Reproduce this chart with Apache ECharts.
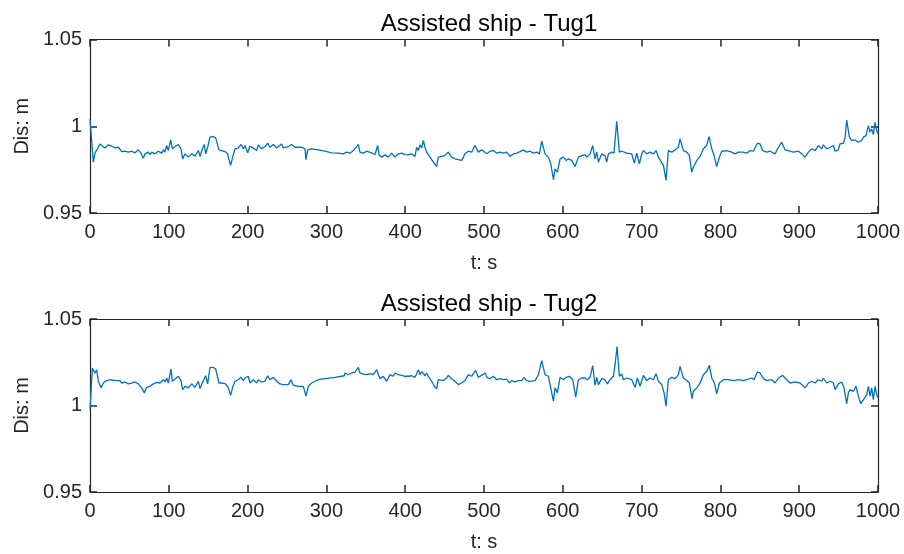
<!DOCTYPE html>
<html>
<head>
<meta charset="utf-8">
<script src="https://cdn.jsdelivr.net/npm/echarts@6/dist/echarts.min.js"></script>
<style>html,body{margin:0;padding:0;background:#fff}#c{width:904px;height:554px}</style>
</head>
<body>
<div id="c"></div>
<script>
const titles = ['Assisted ship - Tug1', 'Assisted ship - Tug2'];
const xTicks = [0,100,200,300,400,500,600,700,800,900,1000];
const yTicks = [0.95, 1, 1.05];

const t1 = [0,4.2,6.3,8.5,12.7,14.8,19.0,23.3,27.5,31.7,36.0,40.2,44.4,48.6,52.9,57.1,61.3,64.7,67.7,69.8,74.0,76.1,78.3,82.5,86.7,90.9,93.1,95.2,97.3,99.4,102.4,104.5,107.9,112.1,115.5,117.6,120.6,124.8,129.0,133.2,137.5,139.6,142.6,145.1,146.8,149.3,152.3,156.5,159.5,162.0,163.7,167.1,171.3,174.7,176.4,178.5,181.0,184.0,188.2,191.6,194.6,196.7,200.1,203.0,207.3,211.5,213.6,217.8,222.1,225.5,228.4,232.7,236.9,243.2,245.3,251.7,255.9,260.1,268.6,272.8,274.1,276.2,281.3,289.8,298.2,306.7,315.1,321.5,325.7,329.9,334.2,338.4,340.5,342.6,346.9,351.1,357.4,361.7,365.0,367.2,370.1,374.4,378.6,382.8,387.0,391.3,395.5,399.7,404.0,408.2,412.4,414.5,416.7,418.8,420.9,423.0,425.1,427.2,429.3,431.5,435.7,439.9,442.0,446.3,450.5,454.7,458.9,463.2,467.4,471.6,475.9,480.1,484.3,488.5,492.8,497.0,503.5,507.7,511.9,516.2,520.4,524.6,528.8,533.1,537.3,541.5,545.8,550.0,554.2,558.5,562.7,566.9,570.3,573.3,577.5,581.7,584.7,588.1,590.2,593.1,596.5,600.8,604.1,607.1,611.3,615.6,619.8,624.0,628.2,630.4,634.6,638.0,640.9,643.1,645.2,649.4,653.6,655.7,657.9,662.1,665.0,668.4,671.8,674.8,681.1,687.5,690.8,693.8,697.2,700.2,702.3,706.5,710.7,715.0,718.3,721.3,727.7,731.0,734.0,738.2,742.5,746.7,748.8,753.0,757.3,760.6,763.6,765.7,770.0,774.2,778.4,782.6,785.6,789.0,792.0,795.3,798.7,801.7,808.0,814.4,818.6,822.8,829.2,833.4,837.6,841.9,846.9,850.3,853.7,858.8,863.0,869.4,873.6,877.8,882.0,888.4,892.6,899.0,903.2,907.4,911.7,915.9,920.1,924.3,928.6,930.7,934.9,939.2,943.4,945.5,949.7,951.8,956.1,958.2,960.3,963.7,966.6,970.9,975.1,979.3,981.5,984.8,987.8,989.9,992.0,994.1,996.3,998.4,1000];
const v1 = [1.0042,0.9793,0.9845,0.9851,0.9898,0.9902,0.9875,0.9893,0.9885,0.9875,0.9879,0.9854,0.9856,0.9851,0.9856,0.9847,0.9864,0.9845,0.9816,0.9841,0.9851,0.9837,0.9851,0.9841,0.9856,0.9845,0.9864,0.9851,0.9889,0.9860,0.9921,0.9870,0.9883,0.9895,0.9870,0.9812,0.9841,0.9822,0.9841,0.9828,0.9860,0.9826,0.9870,0.9895,0.9841,0.9879,0.9937,0.9941,0.9933,0.9927,0.9864,0.9860,0.9854,0.9841,0.9807,0.9774,0.9822,0.9870,0.9875,0.9895,0.9870,0.9889,0.9847,0.9885,0.9874,0.9860,0.9893,0.9870,0.9883,0.9902,0.9879,0.9895,0.9875,0.9898,0.9875,0.9883,0.9895,0.9879,0.9879,0.9870,0.9807,0.9864,0.9870,0.9864,0.9856,0.9847,0.9845,0.9841,0.9851,0.9845,0.9860,0.9883,0.9895,0.9851,0.9845,0.9856,0.9847,0.9837,0.9889,0.9831,0.9822,0.9835,0.9822,0.9845,0.9822,0.9841,0.9845,0.9837,0.9835,0.9841,0.9826,0.9879,0.9860,0.9893,0.9875,0.9918,0.9879,0.9851,0.9860,0.9822,0.9793,0.9768,0.9822,0.9826,0.9831,0.9851,0.9822,0.9812,0.9807,0.9803,0.9841,0.9856,0.9851,0.9889,0.9851,0.9864,0.9841,0.9856,0.9860,0.9845,0.9851,0.9845,0.9851,0.9826,0.9841,0.9845,0.9854,0.9864,0.9851,0.9856,0.9845,0.9851,0.9841,0.9914,0.9841,0.9822,0.9784,0.9692,0.9755,0.9736,0.9812,0.9822,0.9803,0.9812,0.9803,0.9768,0.9822,0.9831,0.9837,0.9822,0.9841,0.9889,0.9812,0.9851,0.9793,0.9841,0.9831,0.9793,0.9841,0.9851,0.9845,1.0029,0.9851,0.9856,0.9845,0.9841,0.9787,0.9845,0.9784,0.9841,0.9860,0.9841,0.9851,0.9841,0.9860,0.9822,0.9774,0.9688,0.9860,0.9851,0.9864,0.9879,0.9927,0.9860,0.9851,0.9831,0.9736,0.9764,0.9803,0.9826,0.9870,0.9889,0.9941,0.9870,0.9831,0.9768,0.9822,0.9856,0.9860,0.9851,0.9841,0.9851,0.9851,0.9845,0.9860,0.9856,0.9902,0.9898,0.9860,0.9851,0.9856,0.9841,0.9879,0.9908,0.9864,0.9856,0.9851,0.9856,0.9841,0.9822,0.9851,0.9870,0.9860,0.9889,0.9870,0.9893,0.9870,0.9879,0.9889,0.9856,0.9864,0.9898,0.9902,0.9933,1.0036,0.9937,0.9918,0.9921,0.9908,0.9918,0.9937,0.9946,1.0004,0.9966,0.9985,0.9952,1.0023,0.9975,0.9956];

const t2 = [0,3.0,6.3,8.5,10.6,12.7,14.0,16.9,21.2,25.4,29.6,33.8,38.1,40.2,44.4,48.6,52.9,57.1,61.3,65.6,68.9,71.9,76.1,80.4,84.6,88.8,93.1,95.2,97.3,99.4,102.8,104.5,107.9,112.1,115.5,117.6,120.6,124.8,129.0,133.2,137.5,139.6,143.8,146.8,149.3,152.3,156.5,159.5,162.0,163.7,167.9,172.2,175.5,178.5,181.0,184.0,188.2,191.6,194.6,196.7,200.9,203.0,207.3,211.5,213.6,217.8,222.1,225.5,228.4,232.7,236.9,241.1,245.3,247.5,251.7,255.1,258.0,264.4,270.7,272.8,274.1,277.1,281.3,285.5,289.8,298.2,310.9,322.7,323.6,327.8,332.1,336.3,340.5,342.6,346.9,351.1,355.3,359.6,363.8,368.0,372.2,376.5,380.7,384.9,387.0,391.3,395.5,399.7,404.0,408.2,412.4,416.7,418.8,420.9,423.0,425.1,427.2,429.3,433.6,437.0,439.9,442.0,448.4,452.6,454.7,458.9,463.2,467.4,471.6,475.9,480.1,484.3,489.4,492.8,497.0,501.3,504.3,507.7,511.9,516.2,520.4,524.6,528.8,532.2,535.2,539.4,543.6,547.9,550.8,554.2,558.5,564.8,569.0,573.3,575.4,577.5,581.7,584.7,588.1,590.2,593.1,596.5,600.8,604.1,608.4,612.6,616.4,619.8,624.0,628.2,631.2,634.6,638.0,640.9,643.1,645.2,649.4,653.6,656.6,660.0,664.2,666.3,668.9,671.8,674.8,676.9,681.1,687.5,691.7,694.7,698.0,702.3,706.5,710.7,715.0,718.3,721.3,725.5,728.5,731.0,734.0,738.2,742.5,746.7,748.8,753.0,757.3,760.6,764.0,765.7,770.0,774.2,778.4,782.6,786.0,789.0,792.4,795.3,798.7,803.8,810.1,816.5,822.8,829.2,833.4,839.7,842.7,846.9,850.3,854.6,858.8,865.1,869.4,873.6,879.1,882.0,888.4,894.7,901.1,907.4,911.7,915.9,920.1,924.3,928.6,930.7,934.9,939.2,943.4,945.5,949.7,954.0,956.9,960.3,962.4,964.5,968.8,972.1,975.1,978.1,981.5,985.7,987.8,989.9,992.0,994.1,996.3,998.4,1000];
const v2 = [0.9977,1.0216,1.0188,1.0207,1.0140,1.0149,1.0102,1.0130,1.0144,1.0149,1.0146,1.0144,1.0144,1.0130,1.0136,1.0125,1.0130,1.0136,1.0125,1.0102,1.0073,1.0105,1.0111,1.0125,1.0134,1.0130,1.0149,1.0136,1.0159,1.0130,1.0211,1.0140,1.0153,1.0169,1.0144,1.0092,1.0111,1.0102,1.0125,1.0105,1.0140,1.0098,1.0144,1.0172,1.0125,1.0220,1.0220,1.0211,1.0207,1.0130,1.0130,1.0125,1.0102,1.0059,1.0105,1.0140,1.0149,1.0163,1.0144,1.0159,1.0169,1.0130,1.0149,1.0130,1.0149,1.0136,1.0140,1.0172,1.0149,1.0163,1.0140,1.0125,1.0121,1.0115,1.0121,1.0149,1.0117,1.0111,1.0111,1.0102,1.0054,1.0111,1.0130,1.0140,1.0149,1.0155,1.0163,1.0172,1.0188,1.0178,1.0188,1.0193,1.0220,1.0188,1.0182,1.0178,1.0184,1.0178,1.0207,1.0155,1.0169,1.0140,1.0178,1.0169,1.0188,1.0178,1.0174,1.0169,1.0169,1.0172,1.0163,1.0207,1.0178,1.0197,1.0188,1.0172,1.0188,1.0169,1.0140,1.0111,1.0096,1.0149,1.0144,1.0159,1.0174,1.0155,1.0140,1.0121,1.0130,1.0144,1.0178,1.0169,1.0203,1.0163,1.0174,1.0188,1.0159,1.0155,1.0169,1.0149,1.0155,1.0149,1.0153,1.0130,1.0144,1.0136,1.0144,1.0144,1.0163,1.0144,1.0140,1.0144,1.0178,1.0259,1.0216,1.0178,1.0169,1.0102,1.0025,1.0102,1.0073,1.0163,1.0149,1.0163,1.0169,1.0149,1.0048,1.0149,1.0159,1.0159,1.0149,1.0163,1.0230,1.0117,1.0163,1.0121,1.0155,1.0149,1.0125,1.0149,1.0169,1.0236,1.0341,1.0169,1.0182,1.0149,1.0159,1.0149,1.0105,1.0159,1.0111,1.0174,1.0144,1.0159,1.0149,1.0184,1.0140,1.0121,1.0073,0.9996,1.0149,1.0163,1.0155,1.0178,1.0226,1.0159,1.0144,1.0130,1.0040,1.0082,1.0102,1.0130,1.0178,1.0197,1.0232,1.0159,1.0130,1.0067,1.0130,1.0149,1.0149,1.0144,1.0149,1.0144,1.0149,1.0159,1.0149,1.0193,1.0188,1.0155,1.0144,1.0149,1.0130,1.0159,1.0174,1.0159,1.0130,1.0136,1.0130,1.0102,1.0130,1.0140,1.0130,1.0149,1.0140,1.0159,1.0130,1.0140,1.0130,1.0092,1.0125,1.0136,1.0102,1.0010,1.0073,1.0092,1.0082,1.0111,1.0054,1.0010,1.0034,1.0063,1.0111,1.0054,1.0102,1.0034,1.0111,1.0063,1.0044];

const zip = (t, v) => t.map((x, i) => [x, v[i]]);
const FONT = 'Liberation Sans';
const TXT = '#262626';
const LINE = '#0072BD';
const TICKLEN = 7;
const HIDDEN_SPLIT = {show: true, lineStyle: {color: 'rgba(0,0,0,0)', width: 0}};

const grids = [
  {left: 90, width: 788, top: 39.5, height: 173.5},
  {left: 90, width: 788, top: 319, height: 173}
];

const xAxes = [], yAxes = [];
grids.forEach((g, i) => {
  xAxes.push({
    type: 'value', gridIndex: i, min: xTicks[0], max: xTicks[xTicks.length - 1], interval: 100, position: 'bottom',
    name: 't: s', nameLocation: 'middle', nameGap: 40,
    nameTextStyle: {fontFamily: FONT, fontSize: 20, color: TXT},
    axisLine: {show: true, onZero: false, lineStyle: {color: TXT, width: 1.2}},
    axisTick: {show: true, inside: true, length: TICKLEN, lineStyle: {color: TXT, width: 1.5}},
    axisLabel: {show: true, fontFamily: FONT, fontSize: 20, color: TXT, margin: 9,
      formatter: v => String(v)},
    splitLine: HIDDEN_SPLIT
  });
  xAxes.push({
    type: 'value', gridIndex: i, min: xTicks[0], max: xTicks[xTicks.length - 1], interval: 100, position: 'top',
    axisLine: {show: true, onZero: false, lineStyle: {color: TXT, width: 1.2}},
    axisTick: {show: true, inside: true, length: TICKLEN, lineStyle: {color: TXT, width: 1.5}},
    axisLabel: {show: false}, splitLine: HIDDEN_SPLIT
  });
  yAxes.push({
    type: 'value', gridIndex: i, min: yTicks[0], max: yTicks[yTicks.length - 1], interval: 0.05, position: 'left',
    name: 'Dis: m', nameLocation: 'middle', nameGap: 53,
    nameTextStyle: {fontFamily: FONT, fontSize: 20, color: TXT},
    axisLine: {show: true, onZero: false, lineStyle: {color: TXT, width: 1.2}},
    axisTick: {show: true, inside: true, length: TICKLEN, lineStyle: {color: TXT, width: 1.5}},
    axisLabel: {show: true, fontFamily: FONT, fontSize: 20, color: TXT, margin: 8,
      formatter: v => String(Math.round(v * 100) / 100)},
    splitLine: HIDDEN_SPLIT
  });
  yAxes.push({
    type: 'value', gridIndex: i, min: yTicks[0], max: yTicks[yTicks.length - 1], interval: 0.05, position: 'right',
    axisLine: {show: true, onZero: false, lineStyle: {color: TXT, width: 1.2}},
    axisTick: {show: true, inside: true, length: TICKLEN, lineStyle: {color: TXT, width: 1.5}},
    axisLabel: {show: false}, splitLine: HIDDEN_SPLIT
  });
});

const chart = echarts.init(document.getElementById('c'), null, {renderer: 'canvas'});
chart.setOption({
  animation: false,
  backgroundColor: '#fff',
  title: [
    {text: titles[0], left: 484, top: 7, textAlign: 'center', textStyle: {fontFamily: FONT, fontSize: 24, fontWeight: 'normal', color: '#000'}},
    {text: titles[1], left: 484, top: 287, textAlign: 'center', textStyle: {fontFamily: FONT, fontSize: 24, fontWeight: 'normal', color: '#000'}}
  ],
  grid: grids,
  xAxis: xAxes,
  yAxis: yAxes,
  series: [
    {type: 'line', xAxisIndex: 0, yAxisIndex: 0, data: zip(t1, v1), showSymbol: false, symbol: 'none',
      lineStyle: {color: LINE, width: 1.3}, clip: true},
    {type: 'line', xAxisIndex: 2, yAxisIndex: 2, data: zip(t2, v2), showSymbol: false, symbol: 'none',
      lineStyle: {color: LINE, width: 1.3}, clip: true}
  ]
});
</script>
</body>
</html>
